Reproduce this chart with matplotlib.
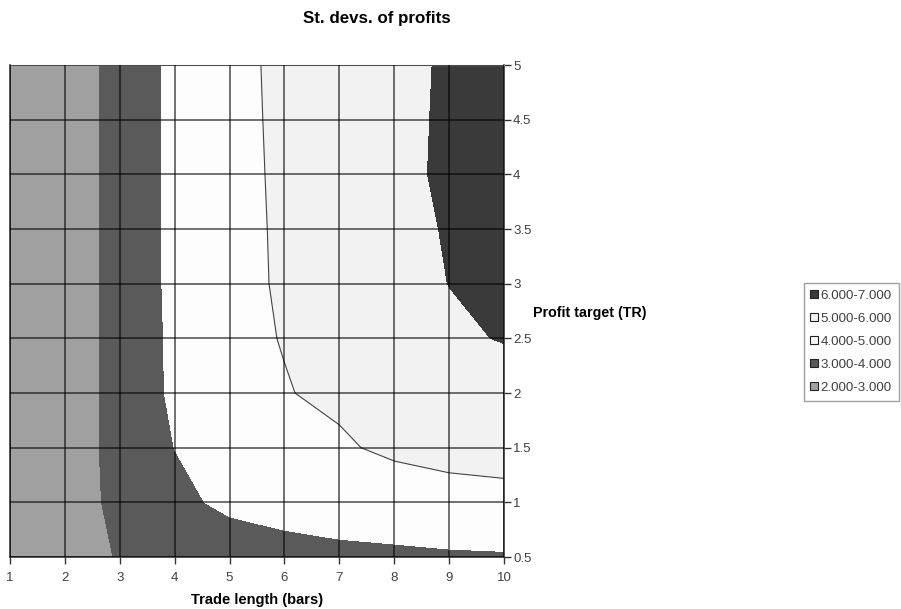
import numpy as np
import matplotlib
matplotlib.use('Agg')
import matplotlib.pyplot as plt
from matplotlib.lines import Line2D

plt.rcParams['font.family'] = ['Liberation Sans', 'DejaVu Sans']

# ---------- dados ----------
trade_length = [1, 2, 3, 4, 5, 6, 7, 8, 9, 10]
profit_target = [0.5, 1.0, 1.5, 2.0, 2.5, 3.0, 3.5, 4.0, 4.5, 5.0]

# desvio padrao dos lucros, uma linha por profit target (0.5 ... 5)
std_devs = [
    [2.10, 2.65, 3.05, 3.25, 3.42, 3.77, 3.87, 3.91, 3.91, 3.93],
    [2.20, 2.70, 3.15, 3.75, 4.21, 4.24, 4.27, 4.29, 4.53, 4.61],
    [2.20, 2.70, 3.18, 4.01, 4.45, 4.60, 4.85, 5.23, 5.40, 5.50],
    [2.20, 2.70, 3.18, 4.19, 4.65, 4.95, 5.21, 5.35, 5.45, 5.52],
    [2.20, 2.70, 3.18, 4.21, 4.75, 5.04, 5.30, 5.60, 5.85, 6.05],
    [2.20, 2.70, 3.18, 4.25, 4.77, 5.09, 5.40, 5.70, 6.01, 6.25],
    [2.20, 2.70, 3.18, 4.25, 4.78, 5.10, 5.42, 5.75, 6.06, 6.30],
    [2.20, 2.70, 3.18, 4.25, 4.80, 5.11, 5.50, 5.80, 6.13, 6.35],
    [2.20, 2.70, 3.18, 4.25, 4.80, 5.13, 5.50, 5.80, 6.11, 6.35],
    [2.20, 2.70, 3.18, 4.25, 4.80, 5.15, 5.50, 5.80, 6.09, 6.35],
]

levels = [2, 3, 4, 5, 6, 7]
level_labels = ['2.000-3.000', '3.000-4.000', '4.000-5.000', '5.000-6.000', '6.000-7.000']
level_colors = ['#a0a0a0', '#5a5a5a', '#fdfdfd', '#f2f2f2', '#3a3a3a']

# ---------- figura ----------
fig = plt.figure(figsize=(9.01, 6.09), dpi=100)
ax = fig.add_axes([10 / 901, 1 - 557 / 609, 494 / 901, 492 / 609])

X, Y = np.meshgrid(trade_length, profit_target)
Z = np.array(std_devs)

ax.contourf(X, Y, Z, levels=levels, colors=level_colors, zorder=1)
ax.contour(X, Y, Z, levels=[5], colors='#444444', linewidths=0.8, zorder=2)

# grade
for x in trade_length:
    ax.axvline(x, color='black', alpha=0.6, lw=1.3, zorder=3)
for y in profit_target:
    ax.axhline(y, color='black', alpha=0.6, lw=1.3, zorder=3)

ax.set_xlim(1, 10)
ax.set_ylim(0.5, 5)
ax.set_xticks(trade_length)
ax.set_yticks(profit_target)
ax.set_yticklabels([f'{v:g}' for v in profit_target])
ax.yaxis.tick_right()
ax.tick_params(axis='both', direction='out', length=5, width=1, color='#333333',
               labelsize=9.5, labelcolor='#404040')
ax.tick_params(axis='x', pad=5.5)
ax.tick_params(axis='y', pad=1.5)

for side in ['left', 'bottom', 'right']:
    ax.spines[side].set_color('#333333')
    ax.spines[side].set_linewidth(1.2)
ax.spines['top'].set_color('#aaaaaa')

ax.set_xlabel('Trade length (bars)', fontsize=10.5, fontweight='bold', labelpad=7)
fig.text(533 / 901, 1 - 313 / 609, 'Profit target (TR)', fontsize=10.3, fontweight='bold',
         ha='left', va='center')
fig.text(377 / 901, 1 - 18 / 609, 'St. devs. of profits', fontsize=12.2, fontweight='bold',
         ha='center', va='center')

# legenda
handles = []
for c in level_colors[::-1]:
    handles.append(Line2D([], [], marker='s', ls='none', markersize=5.5,
                          markerfacecolor=c, markeredgecolor='#222222', markeredgewidth=0.8))
leg = fig.legend(handles, level_labels[::-1], loc='upper left',
                 bbox_to_anchor=(804 / 901, 1 - 283 / 609), fontsize=9.6,
                 frameon=True, fancybox=False, edgecolor='#888888',
                 handlelength=0.5, handletextpad=0.25, labelspacing=0.8,
                 borderpad=0.5, borderaxespad=0)
for t in leg.get_texts():
    t.set_color('#404040')

fig.savefig('out.png', dpi=100)
